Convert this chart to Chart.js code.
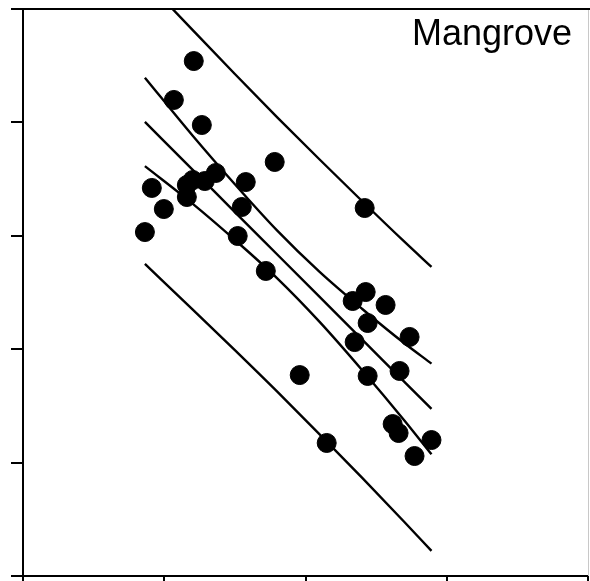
<!DOCTYPE html>
<html>
<head>
<meta charset="utf-8">
<script src="https://cdn.jsdelivr.net/npm/chart.js@4/dist/chart.umd.min.js"></script>
<style>
  html, body { margin: 0; padding: 0; background: #fff; overflow: hidden; }
  #wrap { width: 590px; height: 581px; }
  canvas { display: block; }
</style>
</head>
<body>
<div id="wrap"><canvas id="mangroveChart" width="590" height="581"></canvas></div>
<script>
const obsX = [0.863, 0.912, 0.997, 1.068, 1.160, 1.160, 1.202, 1.209, 1.266, 1.287, 1.365,
              1.520, 1.549, 1.577, 1.719, 1.782, 1.959, 2.150, 2.334, 2.348, 2.419, 2.426,
              2.440, 2.440, 2.567, 2.617, 2.659, 2.666, 2.737, 2.772, 2.892];
const obsY = [3.033, 3.422, 3.236, 4.198, 3.342, 3.448, 3.492, 4.541, 3.977, 3.483, 3.554,
              2.998, 3.254, 3.474, 2.690, 3.651, 1.772, 1.173, 2.425, 2.063, 3.245, 2.504,
              2.231, 1.764, 2.390, 1.340, 1.261, 1.808, 2.108, 1.058, 1.199];

// fitted line and bands, read at a few x positions
const fitX = [0.863, 1.2, 1.5, 1.8, 2.1, 2.4, 2.7, 2.892];
const fitLine = [4.004, 3.584, 3.209, 2.835, 2.461, 2.087, 1.712, 1.473];
const ciUpper = [4.394, 3.884, 3.454, 3.045, 2.681, 2.357, 2.052, 1.873];
const ciLower = [3.614, 3.284, 2.964, 2.625, 2.241, 1.817, 1.372, 1.073];
const piUpper = [5.256, 4.816, 4.427, 4.045, 3.673, 3.307, 2.948, 2.725];
const piLower = [2.752, 2.352, 1.991, 1.625, 1.249, 0.867, 0.476, 0.221];

const panelLabel = 'Mangrove';

function toPoints(xs, ys) {
    return xs.map((x, i) => ({ x: x, y: ys[i] }));
}

function bandLine(ys) {
    return {
        type: 'line',
        data: toPoints(fitX, ys),
        borderColor: '#000',
        borderWidth: 2.4,
        pointRadius: 0,
        fill: false,
        cubicInterpolationMode: 'monotone'
    };
}

// top border, right edge and panel label
const framePlugin = {
    id: 'frame',
    afterDraw(chart) {
        const c = chart.ctx;
        const a = chart.chartArea;
        c.save();
        c.strokeStyle = '#000';
        c.lineWidth = 2;
        c.beginPath();
        c.moveTo(a.left, a.top);
        c.lineTo(chart.width, a.top);
        c.stroke();
        c.strokeStyle = '#c8c8c8';
        c.lineWidth = 1;
        c.beginPath();
        c.moveTo(a.right + 0.5, a.top + 1);
        c.lineTo(a.right + 0.5, a.bottom);
        c.stroke();
        c.fillStyle = '#000';
        c.font = '36px "Liberation Sans", Arial, sans-serif';
        c.textAlign = 'right';
        c.textBaseline = 'alphabetic';
        c.fillText(panelLabel, a.right - 16, a.top + 36);
        c.restore();
    }
};

const ctx = document.getElementById('mangroveChart').getContext('2d');

const mangroveChart = new Chart(ctx, {
    type: 'scatter',
    data: {
        datasets: [
            {
                data: toPoints(obsX, obsY),
                backgroundColor: '#000',
                borderColor: '#000',
                pointRadius: 9.5,
                pointHoverRadius: 9.5
            },
            bandLine(piUpper),
            bandLine(ciUpper),
            bandLine(fitLine),
            bandLine(ciLower),
            bandLine(piLower)
        ]
    },
    options: {
        responsive: false,
        animation: false,
        layout: { autoPadding: false, padding: { left: 11, top: 9, right: 2, bottom: 0 } },
        plugins: {
            legend: { display: false },
            tooltip: { enabled: false }
        },
        scales: {
            x: {
                type: 'linear',
                min: 0,
                max: 4,
                ticks: { stepSize: 1, display: false },
                grid: { drawOnChartArea: false, tickLength: 5, color: '#000', lineWidth: 2 },
                border: { color: '#000', width: 2 }
            },
            y: {
                min: 0,
                max: 5,
                ticks: { stepSize: 1, display: false },
                grid: { drawOnChartArea: false, tickLength: 12, color: '#000', lineWidth: 2 },
                border: { color: '#000', width: 2 }
            }
        }
    },
    plugins: [framePlugin]
});
</script>
</body>
</html>
